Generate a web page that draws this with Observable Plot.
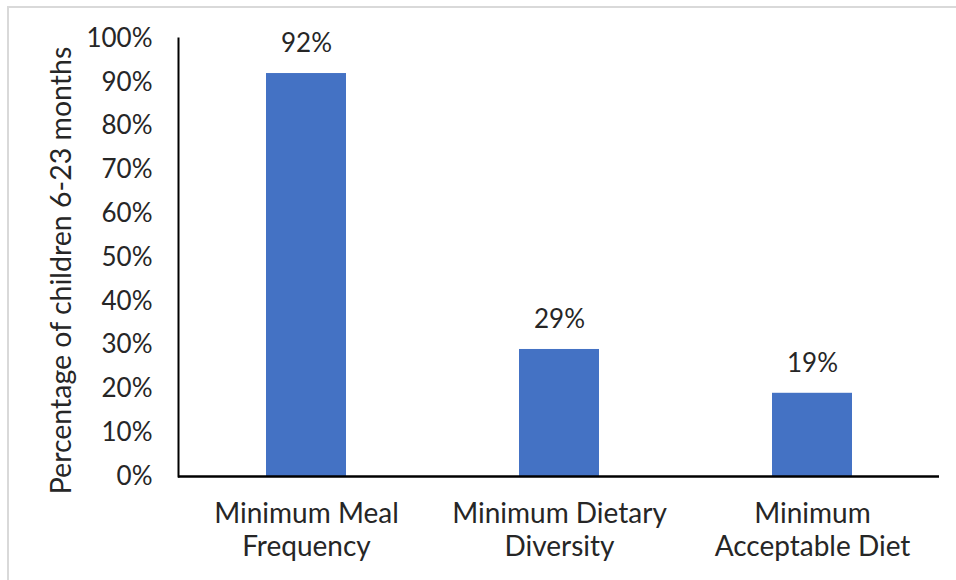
<!DOCTYPE html>
<html>
<head>
<meta charset="utf-8">
<script src="https://cdn.jsdelivr.net/npm/d3@7"></script>
<script src="https://cdn.jsdelivr.net/npm/@observablehq/plot@0.6"></script>
<style>
  html, body { margin: 0; padding: 0; background: #fff; }
  #wrap { position: relative; width: 956px; height: 580px; overflow: hidden; }
  #bt { position: absolute; left: 7px; top: 6px; width: 949px; height: 2px; background: #d9d9d9; }
  #bl { position: absolute; left: 7px; top: 6px; width: 2px; height: 574px; background: #d9d9d9; }
  #chart { position: absolute; left: 0; top: 0; }
</style>
</head>
<body>
<div id="wrap"><div id="chart"></div><div id="bt"></div><div id="bl"></div></div>
<script>
const categories = ["Minimum Meal Frequency", "Minimum Dietary Diversity", "Minimum Acceptable Diet"];
const tickLabels = ["Minimum Meal\nFrequency", "Minimum Dietary\nDiversity", "Minimum\nAcceptable Diet"];
const values = [0.92, 0.29, 0.19];
const valueLabels = ["92%", "29%", "19%"];
const yTicks = [0, 0.1, 0.2, 0.3, 0.4, 0.5, 0.6, 0.7, 0.8, 0.9, 1.0];
const yTitle = "Percentage of children 6-23 months";

const data = categories.map((c, i) => ({category: c, value: values[i], label: valueLabels[i]}));
const labelOf = new Map(categories.map((c, i) => [c, tickLabels[i]]));

const chart = Plot.plot({
  width: 956,
  height: 580,
  marginTop: 38,
  marginBottom: 104,
  marginLeft: 178,
  marginRight: 17,
  style: {fontFamily: "Lato, sans-serif", fontSize: "26px", color: "#262626", background: "transparent"},
  x: {domain: categories, paddingInner: 0.685, paddingOuter: 0.3425, label: null},
  y: {domain: [0, 1], label: null},
  marks: [
    Plot.barY(data, {x: "category", y: "value", fill: "#4472C4"}),
    Plot.text(data, {x: "category", y: "value", text: "label", dy: -30, fontSize: 26, fill: "#262626"}),
    Plot.axisY({ticks: yTicks, tickFormat: d3.format(".0%"), tickSize: 0, tickPadding: 26, fontSize: 26, label: null}),
    Plot.axisX({tickSize: 0, tickPadding: 22, tickFormat: d => labelOf.get(d), fontSize: 28, lineHeight: 1.21, label: null}),
    Plot.frame({anchor: "left", stroke: "#000", strokeWidth: 2}),
    Plot.ruleY([0], {stroke: "#000", strokeWidth: 2.5}),
    Plot.text([yTitle], {frameAnchor: "left", textAnchor: "middle", rotate: -90, dx: -117, dy: 13, fontSize: 28.5, fill: "#262626"})
  ]
});
document.getElementById("chart").appendChild(chart);
</script>
</body>
</html>
